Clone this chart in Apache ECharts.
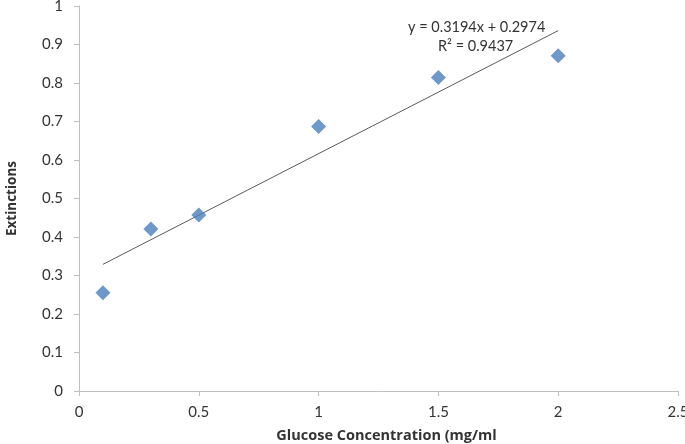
<!DOCTYPE html>
<html>
<head>
<meta charset="utf-8">
<script src="https://cdn.jsdelivr.net/npm/echarts@6/dist/echarts.min.js"></script>
<style>
  html, body { margin: 0; padding: 0; background: #fff; }
  #chart { width: 685px; height: 444px; }
</style>
</head>
<body>
<div id="chart"></div>
<script>
// glucose standard curve
var concentrations = [0.1, 0.3, 0.5, 1.0, 1.5, 2.0]
var extinctions = [0.255, 0.421, 0.457, 0.687, 0.814, 0.871]
// trendline end points (y = 0.3194x + 0.2974)
var trendX = [0.1, 2.0]
var trendY = [0.329, 0.936]
var equationText = 'y = 0.3194x + 0.2974'
var r2Text = 'R² = 0.9437'

var font = 'Lato, "Open Sans", sans-serif'
var axisGrey = '#bfbfbf'
var textColor = '#333333'

var chart = echarts.init(document.getElementById('chart'))

var options = {
  animation: false,
  textStyle: { fontFamily: font },
  grid: {
    left: 79,
    right: 7,
    top: 6,
    bottom: 53,
    outerBoundsMode: 'none',
    containLabel: false
  },
  xAxis: {
    type: 'value',
    min: 0,
    max: 2.5,
    interval: 0.5,
    name: 'Glucose Concentration (mg/ml',
    nameLocation: 'middle',
    nameGap: 37,
    nameTextStyle: { fontFamily: '"Open Sans", sans-serif', fontSize: 14.5, fontWeight: 'bold', color: textColor, padding: [0, 0, 0, 16] },
    axisLine: { show: true, onZero: false, lineStyle: { color: axisGrey } },
    axisTick: { show: true, length: 5, lineStyle: { color: axisGrey } },
    axisLabel: { margin: 14, fontSize: 15, color: textColor, fontFamily: font },
    splitLine: { show: false }
  },
  yAxis: {
    type: 'value',
    min: 0,
    max: 1,
    interval: 0.1,
    name: 'Extinctions',
    nameLocation: 'middle',
    nameGap: 60,
    nameTextStyle: { fontFamily: '"Open Sans", sans-serif', fontSize: 13.5, fontWeight: 'bold', color: textColor },
    axisLine: { show: true, lineStyle: { color: axisGrey } },
    axisTick: { show: true, length: 5, lineStyle: { color: axisGrey } },
    axisLabel: { margin: 16, fontSize: 15, color: textColor, fontFamily: font },
    splitLine: { show: false }
  },
  series: [
    {
      type: 'line',
      data: trendX.map(function (x, i) { return [x, trendY[i]] }),
      symbol: 'none',
      lineStyle: { color: '#595959', width: 1 },
      z: 1
    },
    {
      type: 'scatter',
      data: concentrations.map(function (x, i) { return [x, extinctions[i]] }),
      symbol: 'diamond',
      symbolSize: [15, 15],
      itemStyle: { color: '#4a7ebb' },
      z: 2
    }
  ],
  graphic: [
    {
      type: 'text',
      left: 408,
      top: 20,
      style: { text: equationText, font: '14.5px ' + font, fill: textColor }
    },
    {
      type: 'text',
      left: 438,
      top: 39,
      style: { text: r2Text, font: '14.5px ' + font, fill: textColor }
    }
  ]
}

chart.setOption(options)
</script>
</body>
</html>
